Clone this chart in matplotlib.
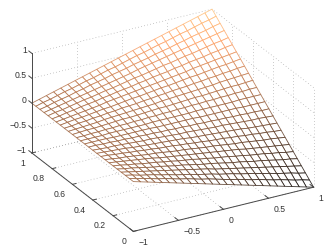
import numpy as np
import matplotlib
matplotlib.use('Agg')
import matplotlib.pyplot as plt
from mpl_toolkits.mplot3d import proj3d

plt.rcParams['font.family'] = ['Liberation Sans', 'DejaVu Sans']

x_vals = [-1, -.92, -.84, -.76, -.68, -.6, -.52, -.44, -.36, -.28, -.2, -.12, -.04,
          .04, .12, .2, .28, .36, .44, .52, .6, .68, .76, .84, .92, 1]
y_vals = [0, .04, .08, .12, .16, .2, .24, .28, .32, .36, .4, .44, .48,
          .52, .56, .6, .64, .68, .72, .76, .8, .84, .88, .92, .96, 1]

# one row per y value
z_grid = [
    [0, -.04, -.08, -.12, -.16, -.20, -.24, -.28, -.32, -.36, -.40, -.44, -.48, -.52, -.56, -.60, -.64, -.68, -.72, -.76, -.80, -.84, -.88, -.92, -.96, -1],
    [0, -.04, -.07, -.11, -.15, -.18, -.22, -.26, -.29, -.33, -.37, -.40, -.44, -.48, -.52, -.55, -.59, -.63, -.66, -.70, -.74, -.77, -.81, -.85, -.88, -.92],
    [0, -.03, -.07, -.10, -.13, -.17, -.20, -.24, -.27, -.30, -.34, -.37, -.40, -.44, -.47, -.50, -.54, -.57, -.60, -.64, -.67, -.71, -.74, -.77, -.81, -.84],
    [0, -.03, -.06, -.09, -.12, -.15, -.18, -.21, -.24, -.27, -.30, -.33, -.36, -.40, -.43, -.46, -.49, -.52, -.55, -.58, -.61, -.64, -.67, -.70, -.73, -.76],
    [0, -.03, -.05, -.08, -.11, -.14, -.16, -.19, -.22, -.24, -.27, -.30, -.33, -.35, -.38, -.41, -.44, -.46, -.49, -.52, -.54, -.57, -.60, -.63, -.65, -.68],
    [0, -.02, -.05, -.07, -.10, -.12, -.14, -.17, -.19, -.22, -.24, -.26, -.29, -.31, -.34, -.36, -.38, -.41, -.43, -.46, -.48, -.50, -.53, -.55, -.58, -.60],
    [0, -.02, -.04, -.06, -.08, -.10, -.12, -.15, -.17, -.19, -.21, -.23, -.25, -.27, -.29, -.31, -.33, -.35, -.37, -.40, -.42, -.44, -.46, -.48, -.50, -.52],
    [0, -.02, -.04, -.05, -.07, -.09, -.11, -.12, -.14, -.16, -.18, -.19, -.21, -.23, -.25, -.26, -.28, -.30, -.32, -.33, -.35, -.37, -.39, -.40, -.42, -.44],
    [0, -.01, -.03, -.04, -.06, -.07, -.09, -.10, -.12, -.13, -.14, -.16, -.17, -.19, -.20, -.22, -.23, -.24, -.26, -.27, -.29, -.30, -.32, -.33, -.35, -.36],
    [0, -.01, -.02, -.03, -.04, -.06, -.07, -.08, -.09, -.10, -.11, -.12, -.13, -.15, -.16, -.17, -.18, -.19, -.20, -.21, -.22, -.24, -.25, -.26, -.27, -.28],
    [0, -.01, -.02, -.02, -.03, -.04, -.05, -.06, -.06, -.07, -.08, -.09, -.10, -.10, -.11, -.12, -.13, -.14, -.14, -.15, -.16, -.17, -.18, -.18, -.19, -.20],
    [0, 0, -.01, -.01, -.02, -.02, -.03, -.03, -.04, -.04, -.05, -.05, -.06, -.06, -.07, -.07, -.08, -.08, -.09, -.09, -.10, -.10, -.11, -.11, -.12, -.12],
    [0, 0, 0, 0, -.01, -.01, -.01, -.01, -.01, -.01, -.02, -.02, -.02, -.02, -.02, -.02, -.03, -.03, -.03, -.03, -.03, -.03, -.04, -.04, -.04, -.04],
    [0, 0, 0, 0, .01, .01, .01, .01, .01, .01, .02, .02, .02, .02, .02, .02, .03, .03, .03, .03, .03, .03, .04, .04, .04, .04],
    [0, 0, .01, .01, .02, .02, .03, .03, .04, .04, .05, .05, .06, .06, .07, .07, .08, .08, .09, .09, .10, .10, .11, .11, .12, .12],
    [0, .01, .02, .02, .03, .04, .05, .06, .06, .07, .08, .09, .10, .10, .11, .12, .13, .14, .14, .15, .16, .17, .18, .18, .19, .20],
    [0, .01, .02, .03, .04, .06, .07, .08, .09, .10, .11, .12, .13, .15, .16, .17, .18, .19, .20, .21, .22, .24, .25, .26, .27, .28],
    [0, .01, .03, .04, .06, .07, .09, .10, .12, .13, .14, .16, .17, .19, .20, .22, .23, .24, .26, .27, .29, .30, .32, .33, .35, .36],
    [0, .02, .04, .05, .07, .09, .11, .12, .14, .16, .18, .19, .21, .23, .25, .26, .28, .30, .32, .33, .35, .37, .39, .40, .42, .44],
    [0, .02, .04, .06, .08, .10, .12, .15, .17, .19, .21, .23, .25, .27, .29, .31, .33, .35, .37, .40, .42, .44, .46, .48, .50, .52],
    [0, .02, .05, .07, .10, .12, .14, .17, .19, .22, .24, .26, .29, .31, .34, .36, .38, .41, .43, .46, .48, .50, .53, .55, .58, .60],
    [0, .03, .05, .08, .11, .14, .16, .19, .22, .24, .27, .30, .33, .35, .38, .41, .44, .46, .49, .52, .54, .57, .60, .63, .65, .68],
    [0, .03, .06, .09, .12, .15, .18, .21, .24, .27, .30, .33, .36, .40, .43, .46, .49, .52, .55, .58, .61, .64, .67, .70, .73, .76],
    [0, .03, .07, .10, .13, .17, .20, .24, .27, .30, .34, .37, .40, .44, .47, .50, .54, .57, .60, .64, .67, .71, .74, .77, .81, .84],
    [0, .04, .07, .11, .15, .18, .22, .26, .29, .33, .37, .40, .44, .48, .52, .55, .59, .63, .66, .70, .74, .77, .81, .85, .88, .92],
    [0, .04, .08, .12, .16, .20, .24, .28, .32, .36, .40, .44, .48, .52, .56, .60, .64, .68, .72, .76, .80, .84, .88, .92, .96, 1],
]

x_ticks = [-1, -.5, 0, .5, 1]
y_ticks = [0, .2, .4, .6, .8, 1]
z_ticks = [-1, -.5, 0, .5, 1]
x_labels = ['\u22121', '\u22120.5', '0', '0.5', '1']
y_labels = ['0', '0.2', '0.4', '0.6', '0.8', '1']
z_labels = ['\u22121', '\u22120.5', '0', '0.5', '1']

fig = plt.figure(figsize=(3.32, 2.53), dpi=100)
ax = fig.add_axes([10 / 332, 9.5 / 253, 319 / 332, 238 / 253], projection='3d', computed_zorder=False)
ax.set_proj_type('ortho')
ax.view_init(elev=25.8, azim=-119.4)
ax.set_xlim(-1, 1, view_margin=0)
ax.set_ylim(0, 1, view_margin=0)
ax.set_zlim(-1, 1, view_margin=0)
ax.set_box_aspect((1, 1, .535), zoom=1.2 * 253 / 238)
ax.set_xticks([])
ax.set_yticks([])
ax.set_zticks([])
ax.set_axis_off()
ax.patch.set_alpha(0)


def label(x, y, z, s, ha):
    #project to the 2d view so the label sits in plain axes coordinates
    px, py, _ = proj3d.proj_transform(x, y, z, ax.get_proj())
    ax.text2D(px, py, s, transform=ax.transData, ha=ha, va='center',
              fontsize=6.2, color='#333333', clip_on=False)


#dotted grid on the floor and the two back walls
grid = dict(color='#999999', lw=.5, ls=(0, (1, 3.5)), zorder=1, clip_on=False)
for x in x_ticks:
    ax.plot([x, x], [0, 1], [-1, -1], **grid)
    ax.plot([x, x], [1, 1], [-1, 1], **grid)
for y in y_ticks:
    ax.plot([-1, 1], [y, y], [-1, -1], **grid)
    ax.plot([1, 1], [y, y], [-1, 1], **grid)
for z in z_ticks:
    ax.plot([-1, 1], [1, 1], [z, z], **grid)
    ax.plot([1, 1], [0, 1], [z, z], **grid)

#mesh: white faces, edges coloured by height
X, Y = np.meshgrid(x_vals, y_vals)
Z = np.array(z_grid)
surf = ax.plot_surface(X, Y, Z, rstride=1, cstride=1, color='white', shade=False,
                       linewidth=.6, antialiased=True, zorder=2)
cell_z = (Z[:-1, :-1] + Z[1:, :-1] + Z[:-1, 1:] + Z[1:, 1:]) / 4
edge_colors = plt.cm.copper((cell_z.ravel() + 1) / 2, alpha=.85)
surf.set_edgecolor(edge_colors)
surf.set_facecolor('white')
surf.set_clip_on(False)

#axis lines and ticks
line = dict(color='#484848', lw=.7, zorder=3, clip_on=False)
ax.plot([-1, -1], [1, 1], [-1, 1], **line)
ax.plot([-1, -1], [0, 1], [-1, -1], **line)
ax.plot([-1, 1], [0, 0], [-1, -1], **line)
for x, lab in zip(x_ticks, x_labels):
    ax.plot([x, x], [0, .035], [-1, -1], **line)
    label(x, -.05, -1.12, lab, 'left')
for y, lab in zip(y_ticks, y_labels):
    ax.plot([-1, -.96], [y, y], [-1, -1], **line)
    label(-1.08, y, -1.146, lab, 'right')
for z, lab in zip(z_ticks, z_labels):
    ax.plot([-1, -1], [1, 1.03], [z, z], **line)
    label(-1, 1.05, z, lab, 'right')

fig.savefig('out.png', dpi=100)
